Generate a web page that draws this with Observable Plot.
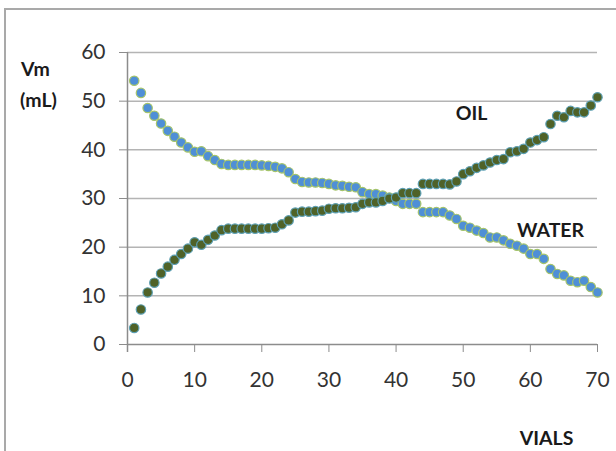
<!DOCTYPE html>
<html>
<head>
<meta charset="utf-8">
<script src="https://cdn.jsdelivr.net/npm/d3@7"></script>
<script src="https://cdn.jsdelivr.net/npm/@observablehq/plot@0.6"></script>
<style>
  html, body { margin: 0; padding: 0; background: #fff; }
  #wrap { position: relative; width: 616px; height: 451px; overflow: hidden; }
  #border { position: absolute; left: 4px; top: 8px; width: 700px; height: 600px;
            border-left: 2px solid #a9a9a9; border-top: 2px solid #a9a9a9; }
  #chart { position: absolute; left: 0; top: 0; }
</style>
</head>
<body>
<div id="wrap"><div id="border"></div><div id="chart"></div></div>
<script>
const vials = [1,2,3,4,5,6,7,8,9,10,11,12,13,14,15,16,17,18,19,20,
  21,22,23,24,25,26,27,28,29,30,31,32,33,34,35,36,37,38,39,40,
  41,42,43,44,45,46,47,48,49,50,51,52,53,54,55,56,57,58,59,60,
  61,62,63,64,65,66,67,68,69,70];
const water = [54.2,51.7,48.6,47.0,45.4,43.9,42.7,41.5,40.5,39.6,
  39.7,38.7,37.9,37.1,36.9,36.9,36.9,36.9,36.9,36.8,
  36.7,36.5,36.2,35.4,34.0,33.4,33.3,33.3,33.2,33.0,
  32.7,32.6,32.4,32.3,31.3,30.9,30.9,30.6,30.2,29.5,
  28.9,28.9,28.9,27.2,27.2,27.2,27.2,26.5,25.8,24.4,
  24.0,23.4,22.9,22.0,22.0,21.4,20.7,20.3,19.7,18.6,
  18.6,17.6,15.5,14.5,14.2,13.1,12.8,13.1,11.8,10.7];
const oil = [3.4,7.2,10.7,12.7,14.6,16.0,17.4,18.6,19.7,21.0,
  20.5,21.5,22.4,23.5,23.8,23.8,23.8,23.8,23.8,23.8,
  23.9,24.0,24.7,25.5,27.1,27.3,27.3,27.4,27.5,27.9,
  28.0,28.0,28.1,28.2,28.9,29.2,29.2,29.5,30.0,30.2,
  31.1,31.1,31.1,33.0,33.0,33.0,33.0,32.9,33.5,35.0,
  35.6,36.3,36.8,37.4,37.9,38.1,39.5,39.7,40.2,41.5,
  42.0,42.6,45.3,47.0,46.7,48.0,47.7,47.7,49.1,50.8];
const xTicks = [0,10,20,30,40,50,60,70];
const yTicks = [0,10,20,30,40,50,60];
const gridTicks = [10,20,30,40,50,60];
const yLabel1 = "Vm";
const yLabel2 = "(mL)";
const xLabel = "VIALS";
const oilLabel = "OIL";
const waterLabel = "WATER";

const waterData = vials.map((v, i) => ({vial: v, vm: water[i]}));
const oilData = vials.map((v, i) => ({vial: v, vm: oil[i]}));

const font = "Lato, 'Open Sans', sans-serif";
const lbl = {fontSize: 19.5, fontWeight: "bold", fill: "#1a1a1a", textAnchor: "middle", lineAnchor: "middle"};

const chart = Plot.plot({
  width: 616,
  height: 451,
  marginLeft: 127,
  marginRight: 19,
  marginTop: 52,
  marginBottom: 107,
  style: {fontFamily: font, background: "transparent", overflow: "visible"},
  x: {domain: [0, 70], label: null},
  y: {domain: [0, 60], label: null},
  marks: [
    Plot.gridY(gridTicks, {stroke: "#b4b4b4", strokeOpacity: 1, strokeWidth: 1.5}),
    Plot.ruleY([0], {stroke: "#8c8c8c", strokeWidth: 1.5}),
    Plot.ruleX([0], {stroke: "#8c8c8c", strokeWidth: 1.5, insetBottom: -8}),
    Plot.axisY(yTicks, {label: null, tickSize: 8, tickPadding: 14, fontSize: 21, stroke: "#8c8c8c", fill: "#333", tickFormat: d => d}),
    Plot.axisX(xTicks, {label: null, tickSize: 8, tickPadding: 20, fontSize: 21, stroke: "#8c8c8c", fill: "#333", tickFormat: d => d}),
    Plot.dot(waterData, {x: "vial", y: "vm", r: 4.7, fill: "#4f8fd6", stroke: "#a5c46a", strokeWidth: 1.2}),
    Plot.dot(oilData, {x: "vial", y: "vm", r: 4.7, fill: "#4f6228", stroke: "#5c9fb3", strokeWidth: 1.2}),
    Plot.text([yLabel1], {...lbl, text: d => d, frameAnchor: "top-left", dx: -92, dy: 17}),
    Plot.text([yLabel2], {...lbl, text: d => d, frameAnchor: "top-left", dx: -89, dy: 48}),
    Plot.text([oilLabel], {...lbl, text: d => d, frameAnchor: "top-right", dx: -126, dy: 61}),
    Plot.text([waterLabel], {...lbl, text: d => d, frameAnchor: "top-right", dx: -47, dy: 178}),
    Plot.text([xLabel], {...lbl, text: d => d, frameAnchor: "bottom-right", dx: -51, dy: 94})
  ]
});
document.getElementById("chart").appendChild(chart);
</script>
</body>
</html>
